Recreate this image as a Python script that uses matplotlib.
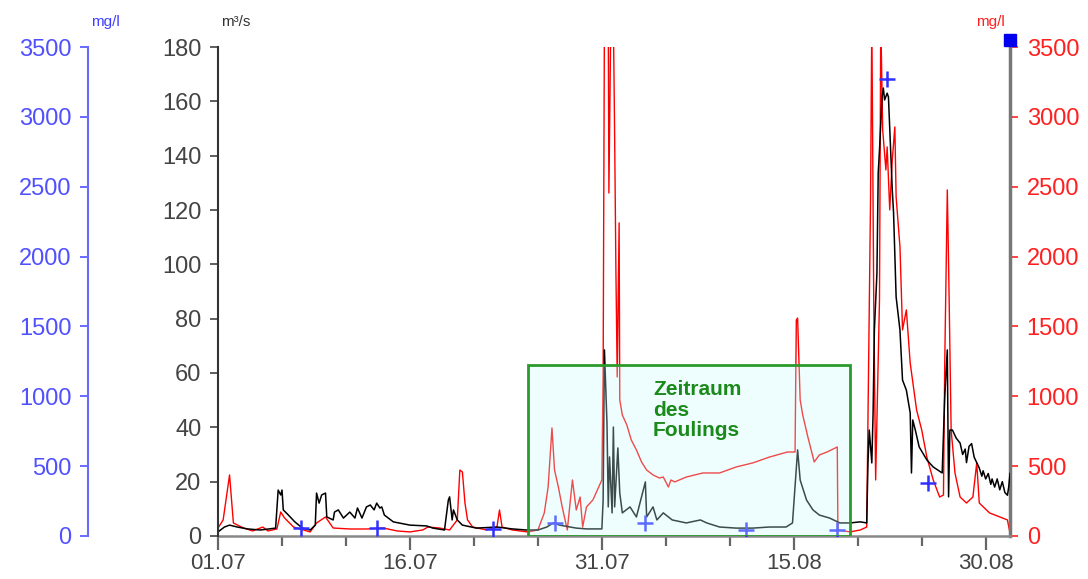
import datetime as dt
import matplotlib
matplotlib.use('Agg')
import matplotlib.pyplot as plt
from matplotlib.patches import Rectangle

plt.rcParams['font.family'] = 'Liberation Sans'

# days since 01.07
start_date = dt.date(2006, 7, 1)

# red series: concentration (mg/l, right axis)
red_days = [0.0, 0.4, 0.9, 1.2, 2.0, 2.7, 3.5, 3.9, 4.6, 4.9, 5.2, 5.9, 7.2, 7.7, 8.4, 9.0,
            10.3, 11.6, 12.9, 14.0, 15.0, 16.0, 16.4, 17.3, 18.1, 18.7, 18.9, 19.1, 19.3, 19.5,
            19.9, 21.0, 21.8, 22.0, 22.2, 23.0, 24.2, 25.0, 25.5, 25.8, 26.1, 26.3, 26.6, 26.9,
            27.3, 27.7, 28.0, 28.3, 28.5, 28.8, 29.3, 30.0, 30.1, 30.2, 30.5, 30.55, 30.7, 30.9,
            31.0, 31.1, 31.2, 31.35, 31.4, 31.6, 31.95, 32.3, 32.7, 33.1, 33.5, 34.0, 34.5, 34.8,
            35.2, 35.4, 35.7, 36.6, 37.9, 39.2, 40.5, 41.8, 43.1, 44.5, 45.1, 45.2, 45.3, 45.5,
            45.7, 46.1, 46.6, 47.0, 47.6, 48.4, 48.45, 49.4, 50.2, 50.7, 51.0, 51.1, 51.25, 51.4,
            51.7, 51.8, 51.95, 52.2, 52.3, 52.5, 52.7, 52.9, 53.0, 53.3, 53.5, 53.8, 54.1, 54.6,
            55.0, 55.4, 55.9, 56.4, 56.7, 56.8, 57.0, 57.1, 57.3, 57.6, 58.0, 58.5, 59.0, 59.3,
            59.5, 60.3, 61.1, 61.7, 61.9]
red_vals = [57, 115, 437, 93, 57, 36, 64, 36, 50, 172, 129, 64, 29, 93, 136, 57,
            50, 50, 57, 36, 29, 43, 64, 57, 43, 115, 472, 458, 236, 115,
            64, 43, 64, 186, 64, 43, 29, 43, 165, 351, 773, 472, 351, 208,
            43, 401, 186, 279, 64, 208, 258, 401, 1167, 3700, 3700, 2455, 3700, 3700,
            2856, 1883, 1138, 2241, 974, 866, 795, 687, 616, 530, 472, 437, 415, 422,
            351, 401, 387, 422, 451, 451, 494, 523, 565, 601, 601, 1546, 1560, 974,
            866, 709, 530, 580, 601, 637, 43, 29, 43, 64, 2405, 3700, 1689, 401,
            1689, 3700, 2906, 2620, 2785, 2334, 2692, 2928, 2427, 2069, 1475, 1618, 1238, 902,
            759, 565, 401, 279, 293, 1238, 2477, 1954, 759, 451, 279, 236, 279, 523,
            236, 165, 136, 115, 21]

# black series: discharge (m³/s)
q_days = [0.0, 0.5, 0.9, 1.5, 2.3, 3.3, 4.5, 4.7, 4.9, 5.0, 5.1, 5.5, 6.0, 6.6, 7.2, 7.6,
          7.7, 7.9, 8.1, 8.4, 8.5, 9.0, 9.1, 9.4, 9.8, 10.3, 10.7, 10.9, 11.25, 11.6, 11.9,
          12.2, 12.4, 12.65, 12.8, 13.0, 13.7, 15.0, 16.3, 16.8, 17.7, 18.0, 18.1, 18.3, 18.4,
          18.7, 19.1, 20.2, 21.8, 23.0, 24.1, 25.0, 25.7, 26.2, 26.7, 27.5, 28.0, 28.8, 30.0,
          30.1, 30.2, 30.4, 30.5, 30.6, 30.8, 30.9, 31.0, 31.25, 31.4, 31.6, 32.2, 32.7, 33.4,
          33.5, 34.0, 34.3, 34.8, 35.5, 36.6, 37.7, 38.2, 39.2, 40.5, 41.8, 43.1, 44.4, 44.9,
          45.2, 45.3, 45.5, 46.0, 46.5, 47.0, 47.8, 48.6, 49.4, 50.2, 50.7, 50.8, 50.9, 51.1,
          51.2, 51.3, 51.5, 51.6, 51.7, 51.9, 52.0, 52.1, 52.3, 52.4, 52.7, 52.8, 53.0, 53.3,
          53.5, 53.8, 54.1, 54.2, 54.3, 54.5, 54.8, 55.4, 55.9, 56.6, 56.8, 57.0, 57.1, 57.2,
          57.4, 57.7, 58.0, 58.2, 58.4, 58.5, 58.7, 58.9, 59.1, 59.3, 59.5, 59.7, 59.8, 60.0,
          60.2, 60.4, 60.5, 60.7, 60.9, 61.1, 61.3, 61.5, 61.7, 61.8, 61.9]
q_vals = [1.5, 3.3, 4.0, 3.3, 2.6, 2.2, 2.9, 16.9, 15.1, 16.9, 9.6, 7.7, 5.2, 2.9, 2.2, 4.0,
          15.8, 12.1, 15.1, 15.8, 7.0, 5.9, 8.8, 9.6, 6.6, 8.8, 6.6, 10.3, 6.6, 10.7, 11.4,
          9.6, 12.1, 10.3, 10.7, 7.7, 5.2, 4.0, 3.7, 2.9, 2.2, 13.2, 14.4, 5.9, 9.6,
          5.9, 4.0, 2.9, 3.3, 2.6, 2.2, 2.2, 3.3, 4.8, 4.0, 3.3, 2.9, 2.6, 2.6,
          13.2, 68.5, 41.6, 10.7, 29.1, 8.5, 40.1, 10.7, 32.4, 15.8, 8.5, 10.7, 7.0, 19.9,
          7.0, 10.7, 5.9, 8.5, 5.9, 4.8, 5.9, 4.8, 3.3, 2.9, 2.9, 3.3, 3.3, 4.8,
          25.4, 31.7, 20.6, 13.2, 9.6, 7.7, 6.6, 4.8, 4.8, 5.2, 4.8, 26.9, 39.0, 26.9,
          45.3, 75.8, 96.8, 133.6, 142.1, 161.6, 164.9, 160.5, 163.0, 161.6, 127.3, 118.9, 88.0, 75.8,
          57.4, 53.7, 45.3, 23.2, 42.7, 39.0, 32.8, 28.0, 25.4, 23.2, 51.2, 68.5, 14.4, 39.0,
          39.0, 36.0, 34.2, 30.0, 32.0, 27.0, 33.0, 34.0, 29.0, 27.0, 25.0, 22.0, 24.0, 21.0,
          23.0, 19.0, 21.0, 18.0, 21.0, 17.0, 20.0, 16.0, 15.0, 18.0, 23.0]

# blue samples (mg/l, left blue axis)
blue_days = [6.5, 12.4, 21.5, 26.3, 33.4, 41.3, 48.4, 52.3, 55.5]
blue_vals = [57, 57, 50, 93, 93, 43, 43, 3271, 379]
blue_square_day = 61.9
blue_square_val = 3550

# fouling period box (days, m³/s)
fouling_start, fouling_end, fouling_top = 24.2, 49.4, 62.9

x_end = 61.9
major_days = [0, 15, 30, 45, 60]
minor_days = [5, 10, 20, 25, 35, 40, 50, 55]
major_labels = [(start_date + dt.timedelta(days=d)).strftime('%d.%m') for d in major_days]

fig = plt.figure(figsize=(10.88, 5.79), dpi=100)
ax = fig.add_axes([0.2004, 0.0743, 0.7279, 0.8445])
ax_q = ax.twinx()
ax_b = ax.twinx()

# red concentration on the base axes
ax.plot(red_days, red_vals, color='#ff0000', lw=1.0)
ax.set_ylim(0, 3500)
ax.set_xlim(0, x_end)
ax.yaxis.tick_right()
ax.set_yticks(range(0, 3501, 500))
ax.tick_params(axis='y', colors='#ff2020', length=6, width=1.2, labelsize=17, pad=6)
ax.set_xticks(major_days)
ax.set_xticklabels(major_labels)
ax.set_xticks(minor_days, minor=True)
ax.tick_params(axis='x', which='major', length=10, width=1.6, color='#666666',
               labelcolor='#444444', labelsize=16, pad=2)
ax.tick_params(axis='x', which='minor', length=7, width=1.6, color='#666666')
ax.spines['top'].set_visible(False)
ax.spines['left'].set_visible(False)
ax.spines['right'].set_color('#777777')
ax.spines['right'].set_linewidth(2.5)
ax.spines['bottom'].set_color('#888888')
ax.spines['bottom'].set_linewidth(1.8)

# black discharge
ax_q.plot(q_days, q_vals, color='black', lw=1.1)
ax_q.set_ylim(0, 180)
ax_q.yaxis.tick_left()
ax_q.set_yticks(range(0, 181, 20))
ax_q.tick_params(axis='y', colors='#444444', length=6, width=1.2, labelsize=17, pad=6)
for s in ['top', 'right', 'bottom']:
    ax_q.spines[s].set_visible(False)
ax_q.spines['left'].set_color('#333333')
ax_q.spines['left'].set_linewidth(1.5)

# blue samples on the outer left axis
ax_b.plot(blue_days, blue_vals, ls='none', marker='+', ms=11, mew=1.8, color='#3030ff')
ax_b.plot([blue_square_day], [blue_square_val], ls='none', marker='s', ms=9,
          color='#0000ee', clip_on=False, zorder=10)
ax_b.set_ylim(0, 3500)
ax_b.spines['left'].set_position(('axes', -0.164))
ax_b.yaxis.tick_left()
ax_b.set_yticks(range(0, 3501, 500))
ax_b.tick_params(axis='y', colors='#5050ff', length=6, width=1.2, labelsize=17, pad=6)
for s in ['top', 'right', 'bottom']:
    ax_b.spines[s].set_visible(False)
ax_b.spines['left'].set_color('#6a6aff')
ax_b.spines['left'].set_linewidth(1.5)

rect = Rectangle((fouling_start, 0), fouling_end - fouling_start, fouling_top,
                 transform=ax_q.transData, facecolor=(0.78, 0.98, 0.98, 0.3),
                 edgecolor='#2a9a2a', lw=2, zorder=5)
ax_b.add_patch(rect)
ax_b.set_ylim(0, 3500)
ax_b.text(34.0, 57.4, 'Zeitraum\ndes\nFoulings', transform=ax_q.transData,
          ha='left', va='top', fontsize=15, fontweight='bold', color='#1a8a1a',
          linespacing=1.1, zorder=6)

fig.text(105 / 1088, 1 - 22 / 579, 'mg/l', color='#4040ff', fontsize=11, ha='center', va='center')
fig.text(236 / 1088, 1 - 22 / 579, 'm³/s', color='#333333', fontsize=11, ha='center', va='center')
fig.text(990 / 1088, 1 - 22 / 579, 'mg/l', color='#ff2020', fontsize=11, ha='center', va='center')

fig.savefig('out.png', dpi=100)
